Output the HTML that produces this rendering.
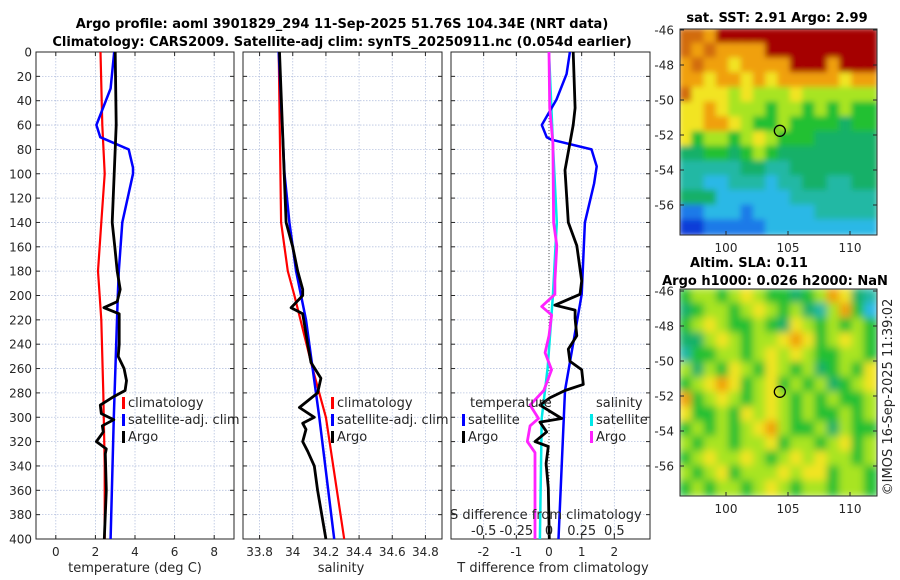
<!DOCTYPE html>
<html><head><meta charset="utf-8"><style>
body{margin:0;background:#fff;}
svg{display:block;font-family:"DejaVu Sans","Liberation Sans",sans-serif;}
</style></head><body>
<svg id="c" width="900" height="580"></svg>
<script>
const depthTicks=[0,20,40,60,80,100,120,140,160,180,200,220,240,260,280,300,320,340,360,380,400];
const tempTicks=[0,2,4,6,8];
const salTicks=[33.8,34,34.2,34.4,34.6,34.8];
const salTickLabels=["33.8","34","34.2","34.4","34.6","34.8"];
const dTTicks=[-2,-1,0,1,2];
const dSTicks=[-0.5,-0.25,0,0.25,0.5];
const dSTickLabels=["-0.5","-0.25","0","0.25","0.5"];
// temperature
const tClimDepth=[0,60,100,140,180,220,280,340,400];
const tClimVal=[2.26,2.35,2.47,2.3,2.13,2.3,2.4,2.47,2.47];
const tSatDepth=[0,30,60,70,80,95,100,140,180,200,300,400];
const tSatVal=[2.95,2.77,2.05,2.25,3.68,3.9,3.9,3.36,3.18,3.13,2.93,2.77];
const tArgoDepth=[0,60,140,160,180,195,205,210,215,220,240,250,260,270,278,283,290,297,302,307,312,320,326,330,360,400];
const tArgoVal=[3.0,3.05,2.85,2.98,3.1,3.25,3.1,2.43,3.2,3.2,3.2,3.15,3.45,3.57,3.5,2.93,2.25,2.3,2.93,2.35,2.4,2.05,2.55,2.5,2.55,2.45];
// salinity
const sClimDepth=[0,140,180,200,260,300,400];
const sClimVal=[33.915,33.93,33.97,34.01,34.12,34.2,34.31];
const sSatDepth=[0,100,140,180,220,300,400];
const sSatVal=[33.915,33.95,33.98,34.02,34.08,34.16,34.25];
const sArgoDepth=[0,140,160,180,195,200,210,215,240,255,268,280,292,300,305,310,320,328,340,360,400];
const sArgoVal=[33.92,33.96,34.0,34.03,34.06,34.06,33.99,34.06,34.09,34.11,34.17,34.15,34.04,34.13,34.06,34.08,34.06,34.09,34.13,34.15,34.2];
// differences
const dTSatDepth=[0,18,39,60,70,72,80,94,108,140,199,278,400];
const dTSatVal=[0.64,0.54,0.23,-0.22,-0.07,0.08,1.3,1.46,1.38,1.1,1.0,0.49,0.29];
const dTArgoDepth=[0,46,60,97,140,159,188,199,208,212,219,233,244,254,261,273,278,284,290,301,304,312,320,324,338,358,400];
const dTArgoVal=[0.74,0.8,0.74,0.49,0.59,0.85,1.0,0.95,0.18,0.8,0.8,0.85,0.59,0.64,1.0,1.05,0.49,0.03,-0.28,0.39,-0.28,-0.07,-0.43,-0.02,-0.09,-0.02,0.01];
const dSSatDepth=[0,75,140,200,259,301,400];
const dSSatVal=[0,0.03,0.06,0.03,-0.01,-0.056,-0.07];
const dSArgoDepth=[0,46,75,140,159,188,199,209,216,233,247,261,278,290,301,307,320,329,400];
const dSArgoVal=[0,0.005,0.03,0.035,0.06,0.045,0.045,-0.056,0.02,0,-0.03,0.02,-0.04,-0.145,-0.08,-0.145,-0.166,-0.107,-0.107];
// maps
const sstGrid=["998AAAAAAAAAAAAA","9898888AAAAAAAAA","898878888AAA8AAA","8878878788888788","9777676667666666","7787666566565655","7788765565555455","7566567655544444","4455456544444444","3333344334444444","3322333233443344","4442222223333333","1122212222233333","0011111222222222"];
const slaGrid=["5665676554568743","4566567656436852","5676556547656565","4467656678756765","3556656767655665","6465765765645657","5678756756564567","8567656765656556","7556576765655656","5656567865564655","6566566756656756","5676676567676656","6567566676775665","5656656765665665"];
const palette=["#0a3cd8","#1e7ae8","#2cb8e6","#20b8a4","#14b068","#22c032","#a8e420","#f2e422","#f0a010","#d26c10","#a50000"];

const svg=document.getElementById('c');
const NS="http://www.w3.org/2000/svg";
function el(tag,attrs,parent){const e=document.createElementNS(NS,tag);for(const k in attrs)e.setAttribute(k,attrs[k]);(parent||svg).appendChild(e);return e;}
function txt(s,x,y,attrs,parent){const t=el('text',Object.assign({x:x,y:y,'font-size':12,fill:'#262626'},attrs||{}),parent);t.textContent=s;return t;}

const Y0=52,Y1=539;
function yD(d){return Y0+(Y1-Y0)*d/400;}
function lin(d0,d1,r0,r1){return v=>r0+(v-d0)*(r1-r0)/(d1-d0);}

function panel(name,x0,x1,xs,ticks,labels,showY){
  const g=el('g',{});
  
  
  ticks.forEach(t=>el('line',{x1:xs(t),x2:xs(t),y1:Y0,y2:Y1,stroke:'#b8c4e0','stroke-width':0.8,'stroke-dasharray':'1.5,1.5'},g));
  depthTicks.forEach(d=>el('line',{x1:x0,x2:x1,y1:yD(d),y2:yD(d),stroke:'#b8c4e0','stroke-width':0.8,'stroke-dasharray':'1.5,1.5'},g));
  el('rect',{x:x0,y:Y0,width:x1-x0,height:Y1-Y0,fill:'none',stroke:'#262626','stroke-width':1},g);
  depthTicks.forEach(d=>{el('line',{x1:x0,x2:x0+4,y1:yD(d),y2:yD(d),stroke:'#262626'},g);el('line',{x1:x1,x2:x1-4,y1:yD(d),y2:yD(d),stroke:'#262626'},g);
    if(showY){const t=txt(String(d),x0-4,yD(d)+4.5,{'text-anchor':'end'},g);}});
  ticks.forEach((t,i)=>{el('line',{x1:xs(t),x2:xs(t),y1:Y1,y2:Y1-4,stroke:'#262626'},g);el('line',{x1:xs(t),x2:xs(t),y1:Y0,y2:Y0+4,stroke:'#262626'},g);
    if(labels){const l=txt(labels[i],xs(t),Y1+17,{'text-anchor':'middle'},g);}});
  return g;
}
function series(name,depths,vals,xs,color,w,g){
  const p=el('polyline',{points:depths.map((d,i)=>xs(vals[i]).toFixed(1)+','+yD(d).toFixed(1)).join(' '),fill:'none',stroke:color,'stroke-width':w,'stroke-linejoin':'round'},g);
  
  
}
function legend(x,y,items,g){items.forEach((it,i)=>{el('rect',{x:x,y:y+i*17-10,width:3,height:12,fill:it[1]},g);const t=txt(it[0],x+6,y+i*17,{'font-size':13},g);});}

const tt=el('g',{'font-weight':'bold'});


txt("Argo profile: aoml 3901829_294 11-Sep-2025 51.76S 104.34E (NRT data)",342,28,{'text-anchor':'middle','font-size':13,'font-weight':'bold',fill:'#000'},tt);
txt("Climatology: CARS2009. Satellite-adj clim: synTS_20250911.nc (0.054d earlier)",342,46,{'text-anchor':'middle','font-size':13,'font-weight':'bold',fill:'#000'},tt);

const xT=lin(-1,9,36,234);
const p1=panel('temperature-panel',36,234,xT,tempTicks,tempTicks.map(String),true);
series('temperature-climatology-line',tClimDepth,tClimVal,xT,'#ff0000',2.2,p1);
series('temperature-satellite-line',tSatDepth,tSatVal,xT,'#0000ff',2.5,p1);
series('temperature-argo-line',tArgoDepth,tArgoVal,xT,'#000',2.8,p1);
legend(122,407,[["climatology","#ff0000"],["satellite-adj. clim","#0000ff"],["Argo","#000"]],p1);
const xl1=txt("temperature (deg C)",135,572,{'text-anchor':'middle','font-size':13});


const xS=lin(33.7,34.9,243,442);
const p2=panel('salinity-panel',243,442,xS,salTicks,salTickLabels,false);
series('salinity-climatology-line',sClimDepth,sClimVal,xS,'#ff0000',2.2,p2);
series('salinity-satellite-line',sSatDepth,sSatVal,xS,'#0000ff',2.5,p2);
series('salinity-argo-line',sArgoDepth,sArgoVal,xS,'#000',2.8,p2);
legend(331,407,[["climatology","#ff0000"],["satellite-adj. clim","#0000ff"],["Argo","#000"]],p2);
const xl2=txt("salinity",341,572,{'text-anchor':'middle','font-size':13});


const xdT=lin(-3,3,451,647);
const xdS=v=>xdT(v*4);
const p3=panel('difference-panel',451,650,xdT,dTTicks,dTTicks.map(String),false);
el('line',{x1:xdT(0),x2:xdT(0),y1:Y0,y2:Y1,stroke:'#555','stroke-width':1,'stroke-dasharray':'1,2'},p3);
series('salinity-satellite-diff-line',dSSatDepth,dSSatVal,xdS,'#00e8e8',2.5,p3);
series('temperature-satellite-diff-line',dTSatDepth,dTSatVal,xdT,'#0000ff',2.5,p3);
series('temperature-argo-diff-line',dTArgoDepth,dTArgoVal,xdT,'#000',2.8,p3);
series('salinity-argo-diff-line',dSArgoDepth,dSArgoVal,xdS,'#ff22ff',2.8,p3);
txt("temperature",470,407,{'font-size':13},p3);
legend(462,424,[["satellite","#0000ff"],["Argo","#000"]],p3);
txt("salinity",596,407,{'font-size':13},p3);
legend(590,424,[["satellite","#00e8e8"],["Argo","#ff22ff"]],p3);
txt("S difference from climatology",450,519,{'font-size':13},p3);
dSTicks.forEach((t,i)=>txt(dSTickLabels[i],xdS(t),535,{'text-anchor':'middle','font-size':13},p3));
const xl3=txt("T difference from climatology",553,572,{'text-anchor':'middle','font-size':13});


const defs=el('defs',{});
const f=el('filter',{id:'bl',x:'0',y:'0',width:'1',height:'1'},defs);el('feGaussianBlur',{stdDeviation:4},f);
const f2=el('filter',{id:'bl2',x:'0',y:'0',width:'1',height:'1'},defs);el('feGaussianBlur',{stdDeviation:3},f2);
const cp1=el('clipPath',{id:'cm1'},defs);el('rect',{x:680,y:29,width:197,height:206},cp1);
const cp2=el('clipPath',{id:'cm2'},defs);el('rect',{x:680,y:289,width:197,height:207},cp2);
const lonX=lin(100,110,726,850);
function map(name,grid,y0,h,filt,clip,lat46){
  const g=el('g',{});
  
  
  const inner=el('g',{'clip-path':'url(#'+clip+')'},g);
  const cells=el('g',{filter:'url(#'+filt+')'},inner);
  const cw=197/16,ch=h/grid.length;
  grid.forEach((row,r)=>{for(let c=0;c<16;c++){const v=row[c]==='A'?10:parseInt(row[c]);el('rect',{x:680+c*cw-1,y:y0+r*ch-1,width:cw+2,height:ch+2,fill:palette[v]},cells);}});
  el('rect',{x:680,y:y0,width:197,height:h,fill:'none',stroke:'#262626'},g);
  const latY=lat=>lat46+(-46-lat)*17.5;
  [-46,-48,-50,-52,-54,-56].forEach(l=>{el('line',{x1:680,x2:684,y1:latY(l),y2:latY(l),stroke:'#262626'},g);el('line',{x1:877,x2:873,y1:latY(l),y2:latY(l),stroke:'#262626'},g);txt(String(l),674,latY(l)+4.5,{'text-anchor':'end','font-size':12},g);});
  [100,105,110].forEach(l=>{el('line',{x1:lonX(l),x2:lonX(l),y1:y0+h,y2:y0+h-4,stroke:'#262626'},g);txt(String(l),lonX(l),y0+h+17,{'text-anchor':'middle','font-size':12},g);});
  const m=el('circle',{cx:lonX(104.34),cy:latY(-51.76),r:5.5,fill:'none',stroke:'#000','stroke-width':1.3},g);
  
  
}
map('sst-map',sstGrid,29,206,'bl2','cm1',30);
map('sla-map',slaGrid,289,207,'bl','cm2',291);
const mt=el('g',{'font-weight':'bold'});


txt("sat. SST: 2.91 Argo: 2.99",777,22,{'text-anchor':'middle','font-size':13,'font-weight':'bold',fill:'#000'},mt);
txt("Altim. SLA: 0.11",749,267,{'text-anchor':'middle','font-size':13,'font-weight':'bold',fill:'#000'},mt);
txt("Argo h1000: 0.026 h2000: NaN",775,285,{'text-anchor':'middle','font-size':13,'font-weight':'bold',fill:'#000'},mt);
const cr=txt("©IMOS 16-Sep-2025 11:39:02",0,0,{'text-anchor':'middle','font-size':13,transform:'translate(892,397) rotate(-90)'});


</script>
</body></html>
